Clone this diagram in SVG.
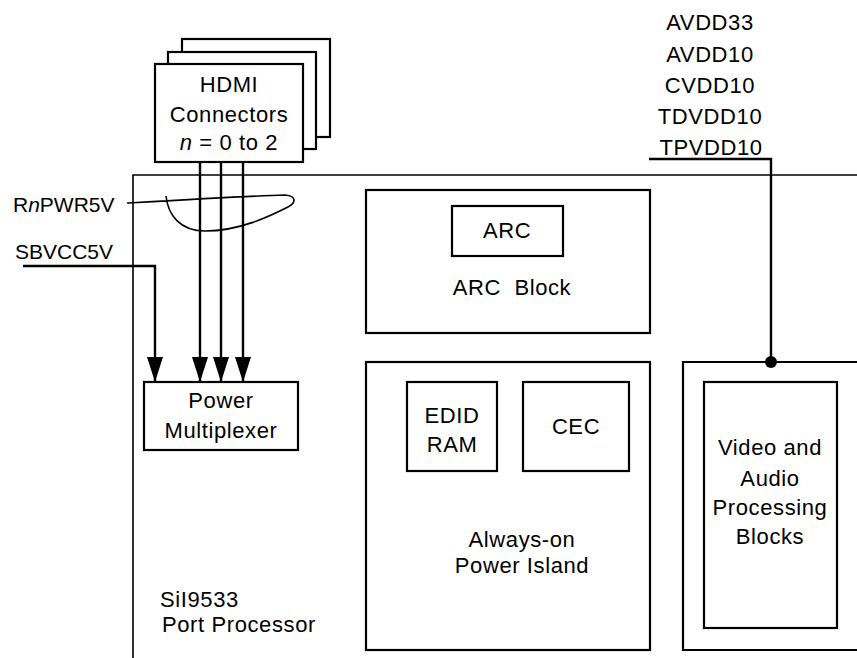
<svg xmlns="http://www.w3.org/2000/svg" width="857" height="658" viewBox="0 0 857 658">
<defs>
<style>
text{font-family:"Liberation Sans",Arial,Helvetica,sans-serif;font-size:22px;letter-spacing:0.6px;fill:#000}
.c{text-anchor:middle}
.lbl{font-size:21px;letter-spacing:0}
.box{fill:#fff;stroke:#000;stroke-width:2.2}
.thin{fill:none;stroke:#000;stroke-width:1.6}
.wire{fill:none;stroke:#000;stroke-width:2.4}
</style>
<marker id="ah" viewBox="0 0 25 16" refX="25" refY="8" markerWidth="25" markerHeight="16" markerUnits="userSpaceOnUse" orient="auto">
<path d="M0,0 L25,8 L0,16 Z" fill="#000"/>
</marker>
</defs>
<rect width="857" height="658" fill="#fff"/>

<g id="chip">
<path class="thin" d="M133,660 L133,175 L860,175"/>
<text x="160" y="607">SiI9533</text>
<text x="162" y="632">Port Processor</text>
</g>

<g id="hdmi">
<rect class="box" x="182" y="39" width="148" height="98"/>
<rect class="box" x="168" y="52" width="148" height="97"/>
<rect class="box" x="155" y="64" width="148" height="98"/>
<text class="c" x="229" y="92">HDMI</text>
<text class="c" x="229" y="122">Connectors</text>
<text class="c" x="229" y="150"><tspan font-style="italic">n</tspan> = 0 to 2</text>
</g>

<g id="power-mux">
<rect class="box" x="144" y="382" width="154" height="68"/>
<text class="c" x="221" y="408">Power</text>
<text class="c" x="221" y="438">Multiplexer</text>
</g>

<g id="arc-block">
<rect class="box" x="366" y="190" width="284" height="143"/>
<text class="c" x="512" y="295" xml:space="preserve">ARC  Block</text>
</g>
<g id="arc">
<rect class="box" x="452" y="206" width="111" height="50"/>
<text class="c" x="507" y="238">ARC</text>
</g>

<g id="always-on">
<rect class="box" x="366" y="362" width="284" height="288"/>
<text class="c" x="522" y="547">Always-on</text>
<text class="c" x="522" y="573">Power Island</text>
</g>
<g id="edid-ram">
<rect class="box" x="407" y="382" width="90" height="89"/>
<text class="c" x="452" y="423">EDID</text>
<text class="c" x="452" y="452">RAM</text>
</g>
<g id="cec">
<rect class="box" x="523" y="382" width="106" height="89"/>
<text class="c" x="576" y="434">CEC</text>
</g>

<g id="video-outer">
<path class="box" d="M862,362 L683,362 L683,650 L862,650"/>
</g>
<g id="video-audio">
<rect class="box" x="704" y="382" width="133" height="246"/>
<text class="c" x="770" y="455">Video and</text>
<text class="c" x="770" y="486">Audio</text>
<text class="c" x="770" y="515">Processing</text>
<text class="c" x="770" y="544">Blocks</text>
</g>

<g id="supplies">
<text class="c" x="710" y="30">AVDD33</text>
<text class="c" x="710" y="62">AVDD10</text>
<text class="c" x="710" y="93">CVDD10</text>
<text class="c" x="710" y="124">TDVDD10</text>
<text class="c" x="711" y="155">TPVDD10</text>
</g>

<g id="labels">
<text class="lbl" x="13" y="212">R<tspan font-style="italic">n</tspan>PWR5V</text>
<text class="lbl" x="15" y="259">SBVCC5V</text>
</g>

<g id="connectors">
<path class="wire" d="M200,162 L200,382" marker-end="url(#ah)"/>
<path class="wire" d="M221,162 L221,382" marker-end="url(#ah)"/>
<path class="wire" d="M243,162 L243,382" marker-end="url(#ah)"/>
<path class="wire" d="M23,266 L155,266 L155,382" marker-end="url(#ah)"/>
<path class="thin" d="M127,203 C180,200 250,196 285,195 C297,196 296,203 288,207 C270,216 240,231 205,231 C180,231 168,215 166,196"/>
<path class="wire" d="M649,159 L771,159 L771,362"/>
<circle cx="771" cy="362" r="6" fill="#000"/>
</g>
</svg>
